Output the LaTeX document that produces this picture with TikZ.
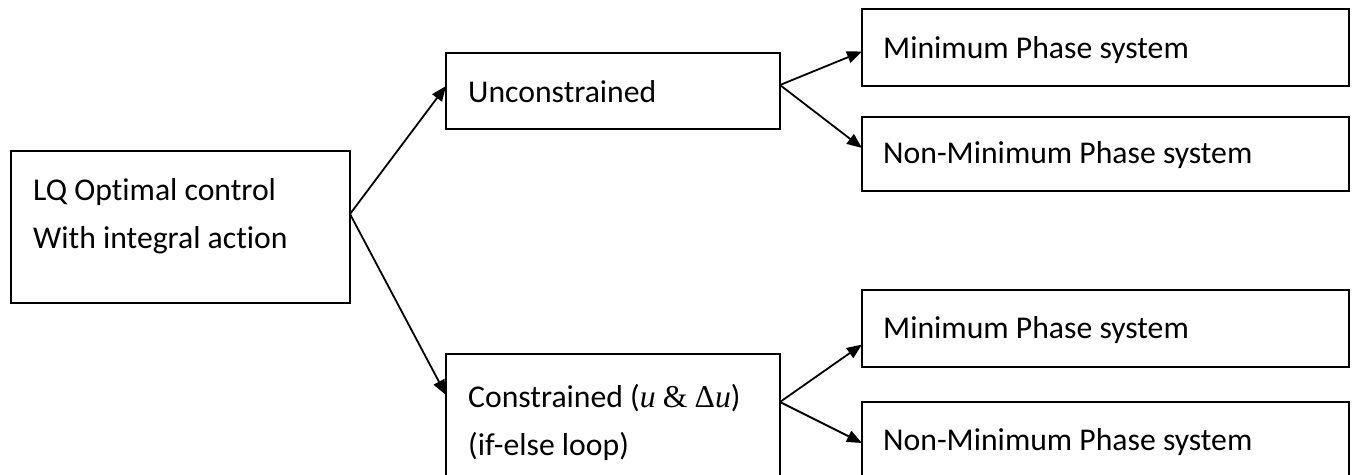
\documentclass[tikz,border=0pt]{standalone}
\usepackage{fontspec}
\setmainfont[Ligatures=NoCommon]{Carlito}
\newfontfamily\mathser{Liberation Serif}
\usetikzlibrary{arrows.meta}
\begin{document}
\begin{tikzpicture}[x=1pt,y=-1pt,
  box/.style={draw, line width=1.5pt, anchor=north west, inner sep=0pt, outer sep=0pt},
  txt/.style={font=\fontsize{31.7}{48}\selectfont, anchor=west, align=left, inner sep=0pt},
  arr/.style={line width=1.8pt, -{Triangle[length=15pt,width=12pt]}}]
\useasboundingbox (0,0) rectangle (1357,474);
\clip (0,0) rectangle (1357,474);
% boxes
\node[box, minimum width=339pt, minimum height=152pt] (A) at (11,151) {};
\node[box, minimum width=334pt, minimum height=76pt] (B) at (446,53) {};
\node[box, minimum width=334pt, minimum height=150pt] (C) at (446,354) {};
\node[box, minimum width=487pt, minimum height=77pt] (M1) at (862,9) {};
\node[box, minimum width=487pt, minimum height=74pt] (N1) at (862,117) {};
\node[box, minimum width=487pt, minimum height=77pt] (M2) at (862,290) {};
\node[box, minimum width=487pt, minimum height=100pt] (N2) at (862,402) {};
% texts
\node[txt] (At) at (33,216) {LQ Optimal control\\With integral action};
\node[txt] (Bt) at (468,92) {Unconstrained};
\node[txt] (Ct) at (468,422) {Constrained ({\mathser\itshape u} {\mathser\&} {\mathser Δ\itshape u})\\(if-else loop)};
\node[txt] (M1t) at (883,50) {Minimum Phase system};
\node[txt] (N1t) at (883,155) {Non-Minimum Phase system};
\node[txt] (M2t) at (883,330) {Minimum Phase system};
\node[txt] (N2t) at (883,442) {Non-Minimum Phase system};
% connector points
\coordinate (a0) at ([yshift=13pt]A.east);
\coordinate (b0) at ([yshift=6pt]B.east);
\coordinate (c0) at ([yshift=-48pt]C.north east);
% arrows
\draw[arr] (a0) -- ([yshift=5pt]B.west);
\draw[arr] (a0) -- ([yshift=-41pt]C.north west);
\draw[arr] (b0) -- ([yshift=-4pt]M1.west);
\draw[arr] (b0) -- ([yshift=6pt]N1.west);
\draw[arr] (c0) -- ([yshift=-16pt]M2.west);
\draw[arr] (c0) -- ([yshift=-41pt]N2.north west);
\end{tikzpicture}
\end{document}
